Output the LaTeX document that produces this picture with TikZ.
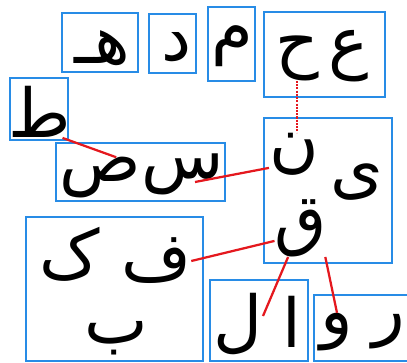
\documentclass[tikz,border=0pt]{standalone}
\usepackage{fontspec}
\newfontfamily\arabicfont[Script=Arabic]{DejaVu Sans}
\TeXXeTstate=1
\definecolor{boxblue}{RGB}{40,140,230}
\definecolor{linkred}{RGB}{228,24,30}
\begin{document}
\begin{tikzpicture}[x=0.025cm,y=-0.025cm,
  box/.style={draw=boxblue,line width=1.4pt},
  letter/.style={inner sep=0pt,font=\arabicfont\fontsize{48}{52}\selectfont},
  link/.style={draw=linkred,line width=1.6pt},
  dotlink/.style={link,dash pattern=on 1.5pt off 0.8pt}]
\useasboundingbox (0,0) rectangle (407,362);

% boxes
\draw[box] (62,13) rectangle (138,72);
\draw[box] (149,14) rectangle (196,73);
\draw[box] (208,7) rectangle (255,81);
\draw[box] (264,12) rectangle (385,97);
\draw[box] (10,78) rectangle (68,140);
\draw[box] (56,143) rectangle (225,201);
\draw[box] (264,118) rectangle (392,263);
\draw[box] (26,217) rectangle (203,361);
\draw[box] (210,280) rectangle (308,361);
\draw[box] (314,295) rectangle (412,361);

% letters
\node[letter] (heh) at (102,48) {\arabicfont\beginR هـ\endR};
\node[letter] (dal) at (177,47) {\arabicfont\beginR د\endR};
\node[letter] (meem) at (232,46) {\arabicfont\beginR م\endR};
\node[letter] (hah) at (297,58) {\arabicfont\beginR ح\endR};
\node[letter] (ain) at (349,56) {\arabicfont\beginR ع\endR};
\node[letter] (tah) at (40,112) {\arabicfont\beginR ط\endR};
\node[letter] (sad) at (100,178) {\arabicfont\beginR ص\endR};
\node[letter] (seen) at (183,174) {\arabicfont\beginR س\endR};
\node[letter] (nun) at (294,154) {\arabicfont\beginR ن\endR};
\node[letter] (yeh) at (357,182) {\arabicfont\beginR ی\endR};
\node[letter] (qaf) at (301,228) {\arabicfont\beginR ق\endR};
\node[letter] (kaf) at (70,254) {\arabicfont\beginR ک\endR};
\node[letter] (feh) at (156,261) {\arabicfont\beginR ف\endR};
\node[letter] (beh) at (116,338) {\arabicfont\beginR ب\endR};
\node[letter] (lam) at (238,324) {\arabicfont\beginR ل\endR};
\node[letter] (alef) at (292,322) {\arabicfont\beginR ا\endR};
\node[letter] (waw) at (337,332) {\arabicfont\beginR و\endR};
\node[letter] (reh) at (389,332) {\arabicfont\beginR ر\endR};

% links
\draw[link] (tah.-49) -- (sad.52);
\draw[link] (nun.209) -- ([shift={(12,8)}]seen.center);
\draw[dotlink] (hah.south) -- (hah.south |- nun.north);
\draw[link] (qaf.206) -- (feh.east);
\draw[link] (qaf.246) -- ([shift={(25,-8)}]lam.center);
\draw[link] (qaf.-50) -- (waw.north);
\end{tikzpicture}
\end{document}
